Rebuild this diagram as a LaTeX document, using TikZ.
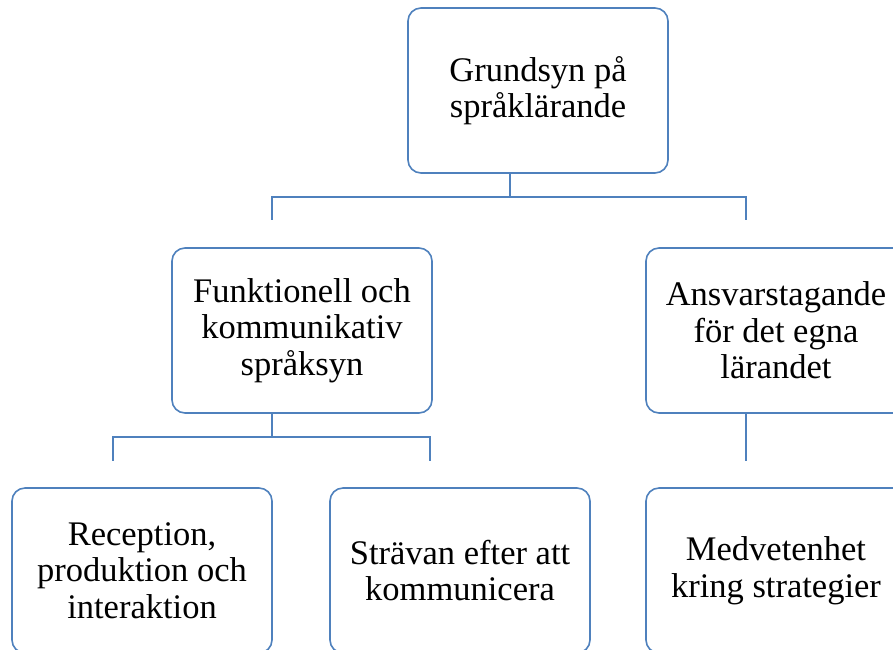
\documentclass[tikz,border=0pt]{standalone}
\usepackage{fontspec}
\setmainfont{Liberation Serif}
\usetikzlibrary{positioning}

\definecolor{boxblue}{RGB}{79,129,189}

\begin{document}
\begin{tikzpicture}[x=1pt, y=-1pt]
			\tikzstyle{Box}		= [rectangle, draw=boxblue, line width=1.6pt, rounded corners=13pt, fill=white, minimum width=260pt, minimum height=165pt, inner sep=0pt, align=center, font=\fontsize{34.5}{36.5}\selectfont]
			\tikzstyle{Link}	= [draw=boxblue, line width=1.6pt]

			\useasboundingbox (0,0) rectangle (893,649);
			\clip (0,0) rectangle (893,649);

			\node (grund) at (538,90.5) [Box] {Grundsyn på\\språklärande};
			\node (funk) at (302,330.5) [Box] {Funktionell och\\kommunikativ\\språksyn};
			\node (ansv) at (776,330.5) [Box] {Ansvarstagande\\för det egna\\lärandet};
			\node (rec) at (142,570.5) [Box] {Reception,\\produktion och\\interaktion};
			\node (strav) at (460,570.5) [Box] {Strävan efter att\\kommunicera};
			\node (medv) at (776,570.5) [Box] {Medvetenhet\\kring strategier};

			\coordinate (s1) at (510,173);
			\coordinate (j1) at (510,197);
			\coordinate (e1) at (272,220);
			\coordinate (e2) at (746,220);
			\coordinate (s2) at (272,413);
			\coordinate (j2) at (272,437);
			\coordinate (e3) at (113,461);
			\coordinate (e4) at (430,461);
			\coordinate (s3) at (746,413);
			\coordinate (e5) at (746,461);

			\draw [-] (s1) -- (j1) -| (e1) [Link];
			\draw [-] (j1) -| (e2) [Link];
			\draw [-] (s2) -- (j2) -| (e3) [Link];
			\draw [-] (j2) -| (e4) [Link];
			\draw [-] (s3) -- (e5) [Link];
		\end{tikzpicture}
\end{document}
